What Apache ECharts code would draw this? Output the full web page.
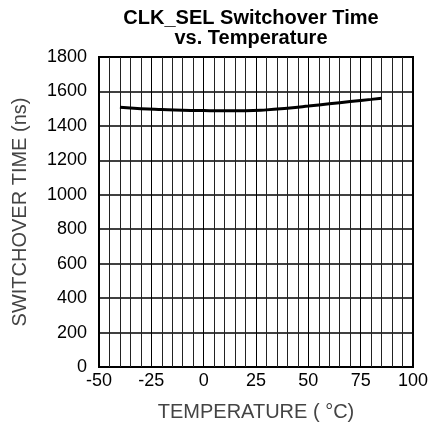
<!DOCTYPE html>
<html>
<head>
<meta charset="utf-8">
<script src="https://cdn.jsdelivr.net/npm/echarts@6/dist/echarts.min.js"></script>
<style>
  html, body { margin: 0; padding: 0; background: #fff; }
  #chart { width: 437px; height: 423px; }
</style>
</head>
<body>
<div id="chart"></div>
<script>
  // values
  var temps = [-40, -30, -20, -10, 0, 10, 20, 30, 40, 50, 60, 70, 80, 85];
  var switchTime = [1508, 1500, 1495, 1491, 1489, 1488, 1488, 1493, 1503, 1515, 1528, 1541, 1554, 1561];

  var points = temps.map(function (t, i) { return [t, switchTime[i]]; });

  var chart = echarts.init(document.getElementById('chart'));
  chart.setOption({
    animation: false,
    title: {
      text: 'CLK_SEL Switchover Time\nvs. Temperature',
      left: 246,
      top: 3,
      textAlign: 'center',
      textStyle: { fontFamily: 'Liberation Sans', fontSize: 20, fontWeight: 'bold', color: '#000', lineHeight: 20 }
    },
    grid: {
      left: 99, right: 24, top: 57, bottom: 56,
      outerBoundsMode: 'none',
      show: true, borderColor: '#000', borderWidth: 2
    },
    xAxis: {
      type: 'value',
      min: -50, max: 100, interval: 25,
      name: 'TEMPERATURE ( °C)',
      nameLocation: 'middle',
      nameGap: 35,
      nameTextStyle: { fontFamily: 'Liberation Sans', fontSize: 20, color: '#444' },
      axisLine: { show: false },
      axisTick: { show: false },
      axisLabel: { fontFamily: 'Liberation Sans', fontSize: 18, color: '#000', margin: 5 },
      splitLine: { show: true, lineStyle: { color: '#000', width: 1 } },
      minorTick: { show: false, splitNumber: 5 },
      minorSplitLine: { show: true, lineStyle: { color: '#222', width: 1 } }
    },
    yAxis: {
      type: 'value',
      min: 0, max: 1800, interval: 200,
      name: 'SWITCHOVER TIME (ns)',
      nameLocation: 'middle',
      nameGap: 69,
      nameTextStyle: { fontFamily: 'Liberation Sans', fontSize: 20, color: '#444' },
      axisLine: { show: false },
      axisTick: { show: false },
      axisLabel: {
        fontFamily: 'Liberation Sans', fontSize: 18, color: '#000', margin: 12,
        formatter: function (v) { return String(v); }
      },
      splitLine: { show: true, lineStyle: { color: '#000', width: 1.5 } }
    },
    series: [{
      type: 'line',
      data: points,
      smooth: true,
      showSymbol: false,
      lineStyle: { color: '#000', width: 3 }
    }]
  });
</script>
</body>
</html>
